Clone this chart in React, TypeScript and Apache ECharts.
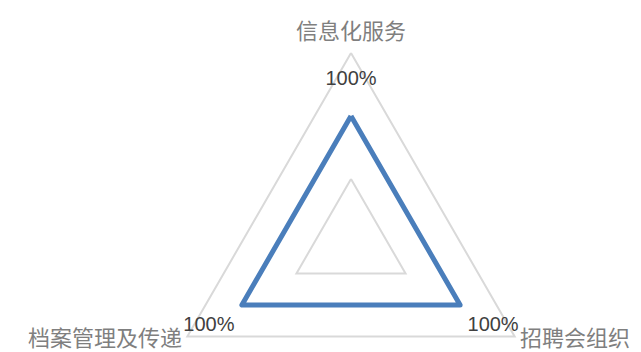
import React, { useEffect, useRef } from "react";
import * as echarts from "echarts";

const indicatorNames = ["信息化服务", "档案管理及传递", "招聘会组织"];
const seriesValues = [100, 100, 100];
const axisMax = 150;
const labelRadarMax = 115.2;

export default function App() {
  const ref = useRef<HTMLDivElement>(null);
  useEffect(() => {
    if (!ref.current) return;
    const chart = echarts.init(ref.current, undefined, { renderer: "svg" });
    const nameKeys = ["t", "bl", "br"];
    const nameStyle = { color: "#7f7f7f", fontSize: 22, fontFamily: "Noto Sans CJK SC", lineHeight: 22 };
    chart.setOption({
      animation: false,
      backgroundColor: "#ffffff",
      radar: [
        {
          center: [351, 242],
          radius: 189,
          startAngle: 90,
          shape: "polygon",
          splitNumber: 3,
          nameGap: 6,
          indicator: indicatorNames.map((n) => ({ name: n, min: 0, max: axisMax })),
          axisName: {
            ...nameStyle,
            formatter: (name: string) => {
              const i = indicatorNames.indexOf(name);
              return "{" + nameKeys[i] + "|" + name + "}";
            },
            rich: {
              t: { ...nameStyle, padding: [0, 0, 14, 0] },
              bl: { ...nameStyle, padding: [0, 0, 8, 0] },
              br: { ...nameStyle, padding: [0, 0, 8, 0] },
            },
          },
          splitLine: { lineStyle: { color: "#d9d9d9", width: 2 } },
          splitArea: { show: false },
          axisLine: { show: false },
          axisTick: { show: false },
          axisLabel: { show: false },
        },
        {
          center: [351, 242],
          radius: 189,
          startAngle: 90,
          shape: "polygon",
          indicator: indicatorNames.map(() => ({ name: "", min: 0, max: labelRadarMax })),
          axisName: { show: false },
          splitLine: { show: false },
          splitArea: { show: false },
          axisLine: { show: false },
          axisTick: { show: false },
          axisLabel: { show: false },
        },
      ],
      series: [
        {
          type: "radar",
          radarIndex: 0,
          symbol: "none",
          lineStyle: { color: "#4a7ebb", width: 5 },
          data: [{ value: seriesValues }],
          z: 3,
        },
        {
          type: "radar",
          radarIndex: 1,
          symbol: "circle",
          symbolSize: 1,
          itemStyle: { color: "rgba(0,0,0,0)" },
          lineStyle: { width: 0, opacity: 0 },
          label: {
            show: true,
            position: "inside",
            formatter: "{c}%",
            color: "#404040",
            fontSize: 20,
            fontFamily: "Liberation Sans",
          },
          data: [{ value: seriesValues }],
          z: 4,
        },
      ],
    });
    return () => chart.dispose();
  }, []);
  return (
    <div
      ref={ref}
      style={{ position: "fixed", left: 0, top: 0, width: 641, height: 352 }}
    />
  );
}
